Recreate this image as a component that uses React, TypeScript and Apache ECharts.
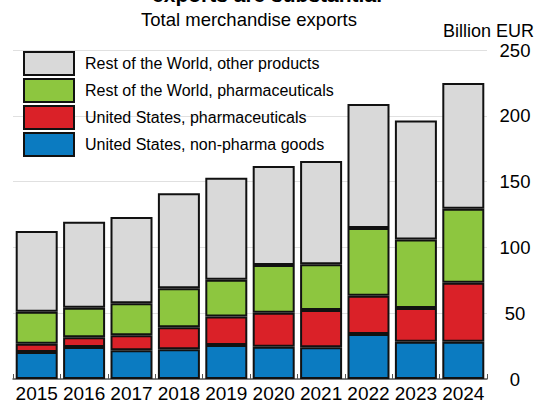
import React, { useEffect, useRef } from "react";
import * as echarts from "echarts";

const years = ["2015", "2016", "2017", "2018", "2019", "2020", "2021", "2022", "2023", "2024"];
const usNonPharma = [20.6, 24.3, 21.8, 22.6, 25.8, 24.6, 24.1, 34.1, 28.3, 28.3];
const usPharma = [6.2, 7.5, 11.5, 16.7, 21.6, 25.8, 28.3, 29.1, 25.6, 44.9];
const rowPharma = [24.3, 22.3, 24.3, 29.6, 28.0, 36.3, 34.8, 51.6, 52.1, 56.1];
const rowOther = [61.4, 65.4, 65.5, 72.2, 77.5, 75.2, 78.5, 94.2, 90.5, 95.7];
const yTicks = [0, 50, 100, 150, 200, 250];

const FONT = "Liberation Sans, Arial, sans-serif";

export default function App() {
  const ref = useRef<HTMLDivElement>(null);
  useEffect(() => {
    if (!ref.current) return;
    const chart = echarts.init(ref.current, undefined, { renderer: "svg" });
    const mk = (name: string, data: number[], color: string) => ({
      name,
      type: "bar",
      stack: "total",
      data,
      barWidth: 42,
      itemStyle: { color, borderColor: "#111", borderWidth: 2 },
    });
    chart.setOption({
      animation: false,
      textStyle: { fontFamily: FONT },
      grid: { left: 13, right: 49, top: 50, bottom: 20, containLabel: false },
      graphic: [
        {
          type: "text",
          x: 267,
          y: 5,
          style: {
            text: "exports are substantial",
            font: "bold 21px " + FONT,
            fill: "#000",
            textAlign: "center",
            textVerticalAlign: "bottom",
          },
        },
        {
          type: "text",
          x: 249,
          y: 19,
          style: {
            text: "Total merchandise exports",
            font: "18.5px " + FONT,
            fill: "#000",
            textAlign: "center",
            textVerticalAlign: "middle",
          },
        },
        {
          type: "text",
          x: 534,
          y: 31,
          style: {
            text: "Billion EUR",
            font: "18px " + FONT,
            fill: "#000",
            textAlign: "right",
            textVerticalAlign: "middle",
          },
        },
      ],
      legend: {
        orient: "vertical",
        left: 18,
        top: 46,
        itemWidth: 50,
        itemHeight: 23,
        itemGap: 2,
        icon: "rect",
        selectedMode: false,
        textStyle: { fontSize: 16, color: "#000", fontFamily: FONT, padding: [0, 0, 0, 6] },
        data: [
          "Rest of the World, other products",
          "Rest of the World, pharmaceuticals",
          "United States, pharmaceuticals",
          "United States, non-pharma goods",
        ],
      },
      xAxis: {
        type: "category",
        data: years,
        axisLine: { show: true, lineStyle: { color: "#555", width: 1.5 } },
        axisTick: { show: true, inside: true, length: 5, lineStyle: { color: "#555" } },
        axisLabel: { fontSize: 19, color: "#000", margin: 5, interval: 0, fontFamily: FONT },
      },
      yAxis: {
        type: "value",
        position: "right",
        min: 0,
        max: 250,
        interval: 50,
        axisLine: { show: false },
        axisTick: { show: false },
        splitLine: { show: true, lineStyle: { color: "#e0e0e0", width: 1 } },
        axisLabel: {
          fontSize: 18.5,
          color: "#000",
          align: "center",
          margin: 28,
          fontFamily: FONT,
          formatter: (v: number) => (yTicks.includes(v) ? String(v) : ""),
        },
      },
      series: [
        mk("United States, non-pharma goods", usNonPharma, "#0b7bc1"),
        mk("United States, pharmaceuticals", usPharma, "#da2128"),
        mk("Rest of the World, pharmaceuticals", rowPharma, "#8dc63f"),
        mk("Rest of the World, other products", rowOther, "#d9d9d9"),
      ],
    });
    return () => chart.dispose();
  }, []);
  return (
    <div
      ref={ref}
      style={{ position: "fixed", left: 0, top: 0, width: 536, height: 403, background: "#fff" }}
    />
  );
}
